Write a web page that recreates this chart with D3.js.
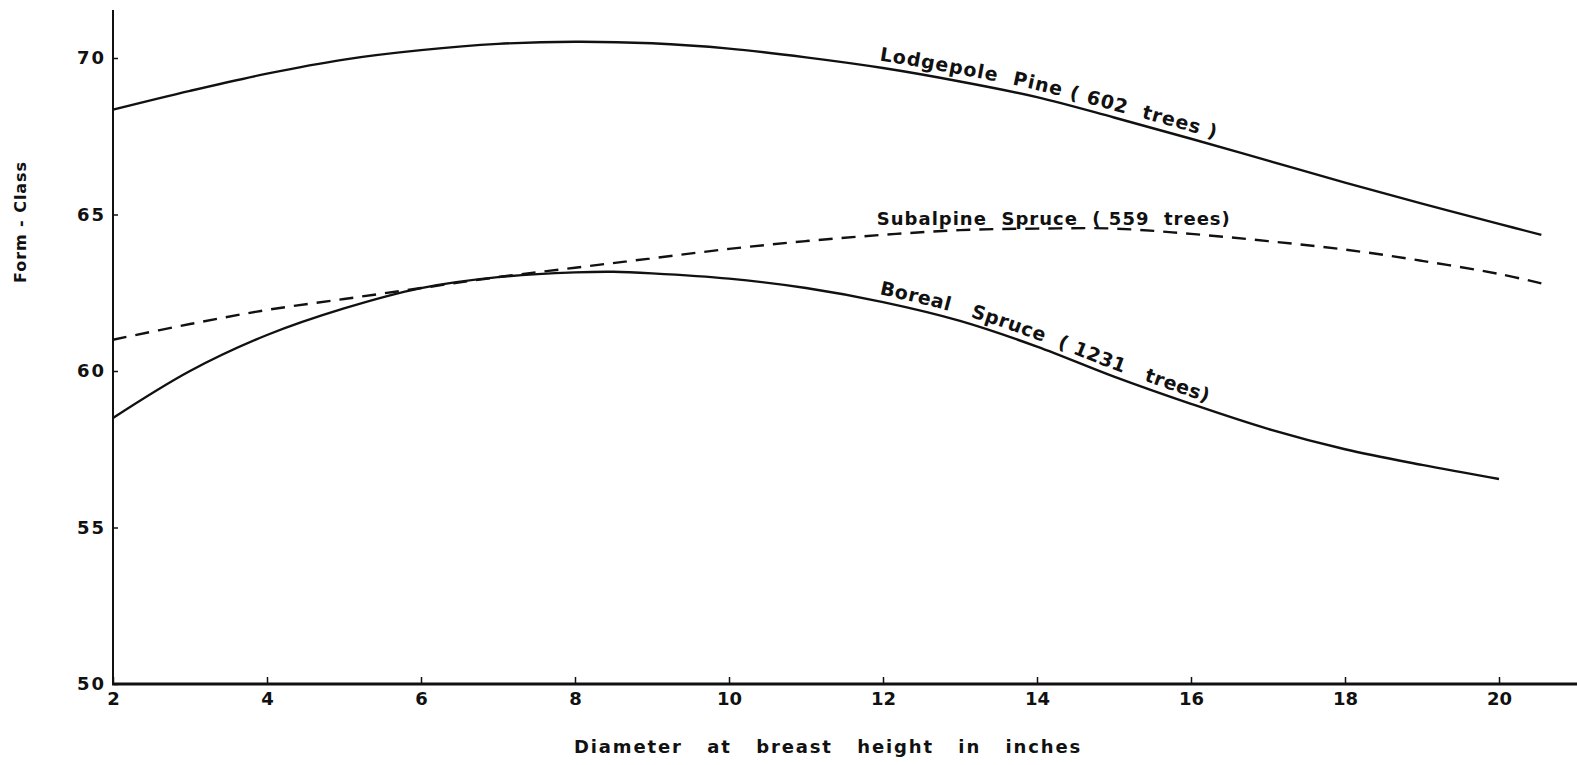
<!DOCTYPE html>
<html><head><meta charset="utf-8">
<script src="https://cdn.jsdelivr.net/npm/d3@7"></script>
<style>
html,body{margin:0;padding:0;background:#fff;}
text{font-family:"DejaVu Sans",sans-serif;fill:#111;font-weight:bold;}
</style></head>
<body><svg id="c" width="1577" height="765"></svg>
<script>
// Data
const xTicks = [2,4,6,8,10,12,14,16,18,20];
const yTicks = [50,55,60,65,70];
const lodgepoleX = [2,3,4,5,6,7,8,9,10,11,12,13,14,15,16,17,18,19,20,20.55];
const lodgepoleY = [68.35,68.95,69.5,69.95,70.25,70.45,70.52,70.47,70.3,70.02,69.68,69.25,68.75,68.1,67.42,66.72,66.02,65.35,64.7,64.35];
const subalpineX = [2,3,4,5,6,7,8,9,10,11,12,13,14,15,16,17,18,19,20,20.55];
const subalpineY = [61.0,61.5,61.95,62.3,62.65,63.0,63.3,63.6,63.9,64.15,64.35,64.5,64.55,64.55,64.38,64.15,63.88,63.52,63.1,62.8];
const borealX = [2,3,4,5,6,7,8,8.5,9,10,11,12,13,14,15,16,17,18,19,20];
const borealY = [58.5,60.0,61.15,62.0,62.65,63.0,63.15,63.17,63.12,62.95,62.65,62.2,61.6,60.78,59.82,58.95,58.15,57.5,57.0,56.55];
const labels = {
  lodge: "Lodgepole  Pine ( 602  trees )",
  sub: "Subalpine  Spruce  ( 559  trees)",
  bor: "Boreal   Spruce  ( 1231   trees)"
};
const xTitle = "Diameter   at   breast   height   in   inches";
const yTitle = "Form - Class";

const svg = d3.select("#c");
const x = d3.scaleLinear().domain([2,21]).range([113,1576]);
const y = d3.scaleLinear().domain([50,70]).range([684,58]);

function fit(sel, target){
  const n = sel.node();
  sel.attr("letter-spacing","0px");
  const len = n.getComputedTextLength();
  const chars = sel.text().length;
  sel.attr("letter-spacing", ((target-len)/chars).toFixed(2)+"px");
}

// axes
svg.append("line").attr("x1",x(2)).attr("x2",x(2)).attr("y1",10).attr("y2",y(50)+1)
  .attr("stroke","#111").attr("stroke-width",2);
svg.append("line").attr("x1",x(2)-1).attr("x2",1577).attr("y1",y(50)).attr("y2",y(50))
  .attr("stroke","#111").attr("stroke-width",2.8);

const xa = svg.append("g").attr("transform",`translate(0,${y(50)})`)
  .call(d3.axisBottom(x).tickValues(xTicks).tickSize(0).tickPadding(8).tickFormat(d3.format("d")));
xa.select(".domain").remove();
xa.selectAll("text").attr("font-size",18).attr("font-family","DejaVu Sans").attr("font-weight","bold").attr("fill","#111").attr("dy","0.72em");
xa.selectAll(".tick").append("line").attr("y1",-1).attr("y2",-7).attr("stroke","#111").attr("stroke-width",1.5);

const ya = svg.append("g").attr("transform",`translate(${x(2)},0)`)
  .call(d3.axisLeft(y).tickValues(yTicks).tickSize(0).tickPadding(7).tickFormat(d=>String(d)));
ya.select(".domain").remove();
ya.selectAll("text").attr("font-size",18).attr("font-family","DejaVu Sans").attr("font-weight","bold").attr("fill","#111").attr("letter-spacing","2px");
ya.selectAll(".tick").append("line").attr("x1",1).attr("x2",5).attr("stroke","#111").attr("stroke-width",1.5);

const line = d3.line().x(d=>x(d[0])).y(d=>y(d[1])).curve(d3.curveCatmullRom.alpha(0.5));
const zip = (a,b)=>a.map((v,i)=>[v,b[i]]);
const lp = zip(lodgepoleX,lodgepoleY), sp = zip(subalpineX,subalpineY), bp = zip(borealX,borealY);

svg.append("path").attr("d",line(lp)).attr("fill","none").attr("stroke","#111").attr("stroke-width",2.4);
svg.append("path").attr("d",line(sp)).attr("fill","none").attr("stroke","#111").attr("stroke-width",2.4).attr("stroke-dasharray","14,9");
svg.append("path").attr("d",line(bp)).attr("fill","none").attr("stroke","#111").attr("stroke-width",2.4);

// label paths offset upward
const offLine = (off)=>d3.line().x(d=>x(d[0])).y(d=>y(d[1])-off).curve(d3.curveCatmullRom.alpha(0.5));
const defs = svg.append("defs");
function addPathLabel(id, pts, off, txt, startX, fs, target){
  const p = defs.append("path").attr("id",id).attr("d",offLine(off)(pts));
  const node = p.node();
  const L = node.getTotalLength();
  let lo=0, hi=L;
  for(let i=0;i<40;i++){const m=(lo+hi)/2; if(node.getPointAtLength(m).x<x(startX)) lo=m; else hi=m;}
  const t = svg.append("text").attr("font-size",fs).style("white-space","pre");
  t.append("textPath").attr("href","#"+id).attr("startOffset",lo).text(txt);
  t.attr("letter-spacing","0px");
  const len = t.node().getComputedTextLength();
  t.attr("letter-spacing", ((target-len)/txt.length).toFixed(2)+"px");
}
addPathLabel("lpPath", lp, 7, labels.lodge, 11.95, 19, 346);
addPathLabel("bpPath", bp, 7, labels.bor, 11.95, 19, 346);

const st = svg.append("text").attr("x",x(11.92)).attr("y",y(64.68)).attr("font-size",18)
  .style("white-space","pre").text(labels.sub);
fit(st, 354);

const xt = svg.append("text").attr("x",574).attr("y",753)
  .attr("font-size",18).style("white-space","pre").text(xTitle);
fit(xt, 508);
const yt = svg.append("text").attr("transform",`translate(26,222) rotate(-90)`).attr("text-anchor","middle")
  .attr("font-size",16).style("white-space","pre").text(yTitle);
fit(yt, 122);
</script></body></html>
